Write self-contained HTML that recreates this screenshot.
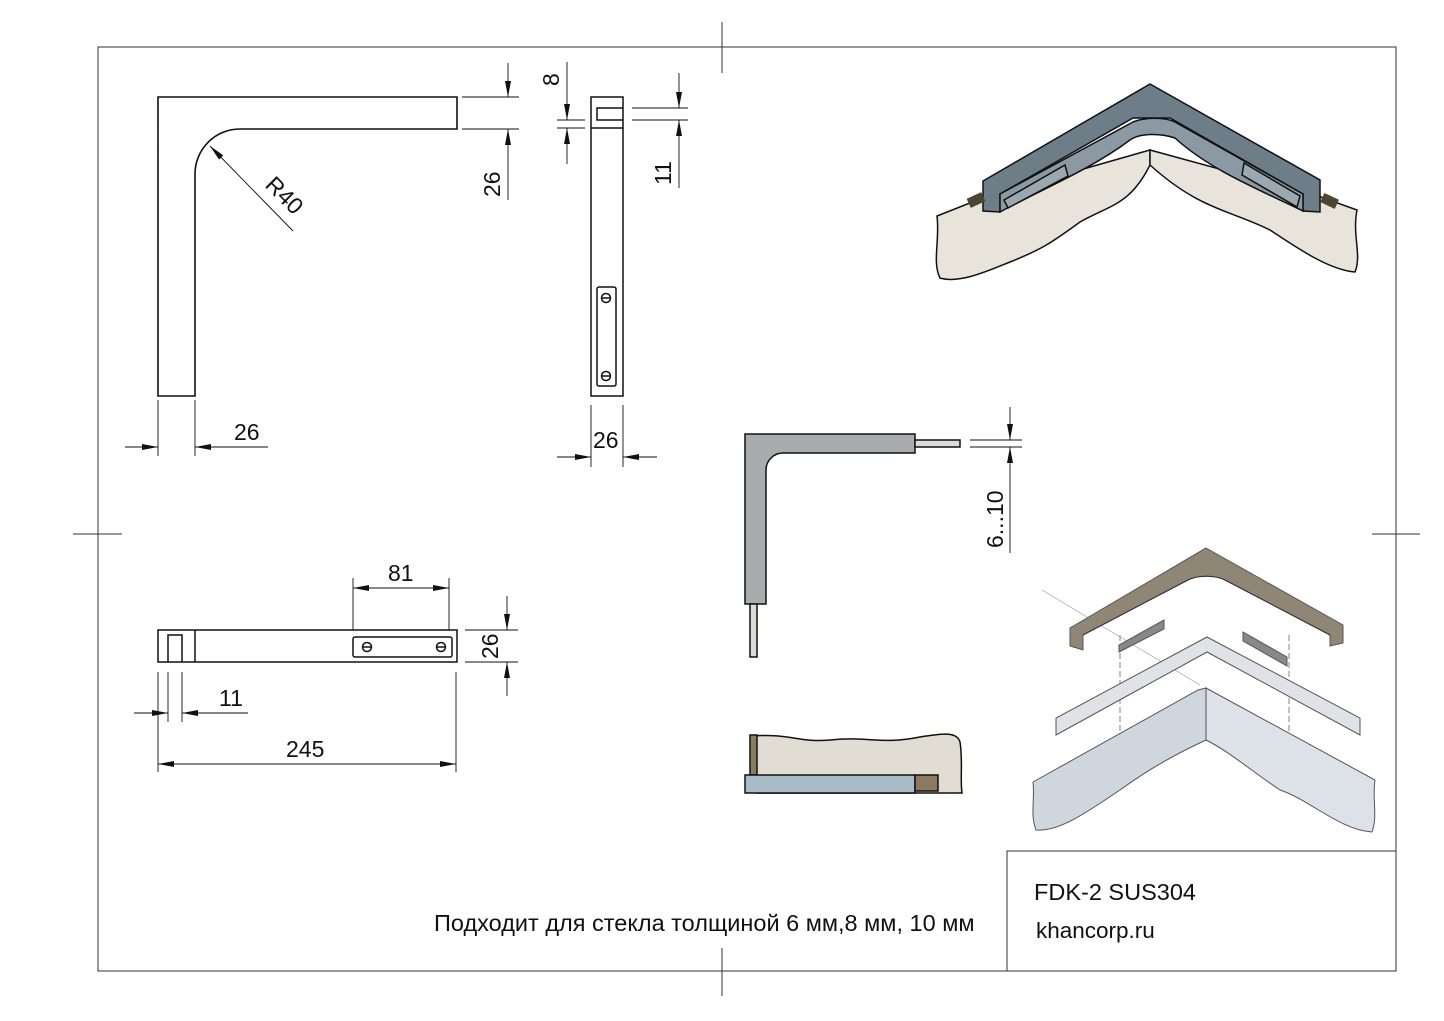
<!DOCTYPE html>
<html><head><meta charset="utf-8"><style>
html,body{margin:0;padding:0;background:#fff}
svg{display:block}
text{font-family:"Liberation Sans",sans-serif;fill:#111}
</style></head><body>
<svg width="1444" height="1021" viewBox="0 0 1444 1021" xmlns="http://www.w3.org/2000/svg">
<defs>
<marker id="a" viewBox="0 0 16 6" refX="16" refY="3" markerWidth="16" markerHeight="6" markerUnits="userSpaceOnUse" orient="auto"><path d="M0,0L16,3L0,6z" fill="#111"/></marker>
</defs>
<g fill="none" stroke="#333" stroke-width="1">
<rect x="98" y="47" width="1298" height="924"/>
<line x1="722" y1="22" x2="722" y2="73"/><line x1="722" y1="948" x2="722" y2="996"/>
<line x1="73" y1="534" x2="122" y2="534"/><line x1="1372" y1="534" x2="1420" y2="534"/>
<path d="M1007 971V851H1396"/>
</g>
<text x="1034" y="900" font-size="23.5">FDK-2 SUS304</text>
<text x="1036" y="938" font-size="22.5">khancorp.ru</text>
<text x="434" y="931" font-size="23.5">Подходит для стекла толщиной 6 мм,8 мм, 10 мм</text>

<!-- top-left L -->
<g fill="none" stroke="#111" stroke-width="1.6">
<path d="M158 97H457V129H240A45 45 0 0 0 195 174V396H158Z"/>
</g>
<g stroke="#111" stroke-width="0.9" fill="none">
<line x1="293" y1="231" x2="210" y2="146" marker-end="url(#a)"/>
<line x1="462" y1="97" x2="519" y2="97"/><line x1="462" y1="129" x2="519" y2="129"/>
<line x1="508" y1="63" x2="508" y2="97" marker-end="url(#a)"/><line x1="508" y1="200" x2="508" y2="129" marker-end="url(#a)"/>
<line x1="158" y1="400" x2="158" y2="456"/><line x1="195" y1="400" x2="195" y2="456"/>
<line x1="125" y1="447" x2="158" y2="447" marker-end="url(#a)"/><line x1="268" y1="447" x2="195" y2="447" marker-end="url(#a)"/>
</g>
<text x="0" y="0" font-size="23" transform="translate(264,186) rotate(45)">R40</text>
<text x="0" y="0" font-size="23" transform="translate(500,197) rotate(-90)">26</text>
<text x="234" y="440" font-size="23">26</text>

<!-- side view -->
<g fill="none" stroke="#111" stroke-width="1.5">
<rect x="591" y="97" width="32" height="299"/>
<path d="M623 108H597V120H623"/>
<line x1="591" y1="128" x2="623" y2="128"/>
<rect x="597" y="287" width="19" height="99" rx="2"/>
<circle cx="606" cy="298" r="4.5"/><circle cx="606" cy="376" r="4.5"/>
<line x1="601.5" y1="298" x2="610.5" y2="298"/><line x1="601.5" y1="376" x2="610.5" y2="376"/>
</g>
<g stroke="#111" stroke-width="0.9" fill="none">
<line x1="557" y1="120" x2="585" y2="120"/><line x1="557" y1="128" x2="585" y2="128"/>
<line x1="567" y1="62" x2="567" y2="120" marker-end="url(#a)"/><line x1="567" y1="164" x2="567" y2="128" marker-end="url(#a)"/>
<line x1="632" y1="108" x2="688" y2="108"/><line x1="632" y1="120" x2="688" y2="120"/>
<line x1="679" y1="73" x2="679" y2="108" marker-end="url(#a)"/><line x1="679" y1="188" x2="679" y2="120" marker-end="url(#a)"/>
<line x1="591" y1="405" x2="591" y2="467"/><line x1="623" y1="405" x2="623" y2="467"/>
<line x1="557" y1="457" x2="591" y2="457" marker-end="url(#a)"/><line x1="657" y1="457" x2="623" y2="457" marker-end="url(#a)"/>
</g>
<text x="0" y="0" font-size="23" transform="translate(559,86) rotate(-90)">8</text>
<text x="0" y="0" font-size="23" transform="translate(671,185) rotate(-90)">11</text>
<text x="593" y="448" font-size="23">26</text>

<!-- bottom view -->
<g fill="none" stroke="#111" stroke-width="1.5">
<rect x="158" y="630" width="299" height="32"/>
<line x1="195" y1="630" x2="195" y2="662"/>
<path d="M168 662V635H182V662"/>
<rect x="353" y="637" width="99" height="20" rx="2"/>
<circle cx="367" cy="647" r="4.5"/><circle cx="441" cy="647" r="4.5"/>
<line x1="362.5" y1="647" x2="371.5" y2="647"/><line x1="436.5" y1="647" x2="445.5" y2="647"/>
</g>
<g stroke="#111" stroke-width="0.9" fill="none">
<line x1="353" y1="578" x2="353" y2="630"/><line x1="449" y1="578" x2="449" y2="630"/>
<line x1="401" y1="588" x2="353" y2="588" marker-end="url(#a)"/><line x1="401" y1="588" x2="449" y2="588" marker-end="url(#a)"/>
<line x1="465" y1="630" x2="518" y2="630"/><line x1="465" y1="662" x2="518" y2="662"/>
<line x1="507" y1="596" x2="507" y2="630" marker-end="url(#a)"/><line x1="507" y1="696" x2="507" y2="662" marker-end="url(#a)"/>
<line x1="158" y1="672" x2="158" y2="772"/><line x1="168" y1="672" x2="168" y2="722"/><line x1="182" y1="672" x2="182" y2="722"/><line x1="456" y1="672" x2="456" y2="772"/>
<line x1="134" y1="713" x2="168" y2="713" marker-end="url(#a)"/><line x1="248" y1="713" x2="182" y2="713" marker-end="url(#a)"/>
<line x1="307" y1="764" x2="158" y2="764" marker-end="url(#a)"/><line x1="307" y1="764" x2="456" y2="764" marker-end="url(#a)"/>
</g>
<text x="388" y="581" font-size="23">81</text>
<text x="0" y="0" font-size="23" transform="translate(498,659) rotate(-90)">26</text>
<text x="219" y="706" font-size="23">11</text>
<text x="286" y="757" font-size="23">245</text>

<!-- middle L -->
<g stroke="#111" stroke-width="1.5">
<path d="M745 434H915V453H783A17 17 0 0 0 766 470V604H745Z" fill="#a9acac"/>
<rect x="915" y="440" width="45" height="7" fill="#dcdcd6"/>
<rect x="750" y="604" width="7" height="53" fill="#dcdcd6"/>
</g>
<g stroke="#111" stroke-width="0.9" fill="none">
<line x1="970" y1="440" x2="1022" y2="440"/><line x1="970" y1="447" x2="1022" y2="447"/>
<line x1="1010" y1="407" x2="1010" y2="440" marker-end="url(#a)"/><line x1="1010" y1="553" x2="1010" y2="447" marker-end="url(#a)"/>
</g>
<text x="0" y="0" font-size="23" transform="translate(1003,548) rotate(-90)">6...10</text>

<!-- cross section -->
<g stroke="#111" stroke-width="1.5">
<path d="M752 736C790 733 800 743 830 740C870 736 880 745 920 737C945 733 957 732 960 742C963 760 960 780 962 793H757Z" fill="#e2ddd2"/>
<rect x="750" y="735" width="7" height="40" fill="#8a7c5e"/>
<rect x="745" y="775" width="170" height="18" fill="#a8bcc7"/>
<rect x="915" y="775" width="23" height="16" fill="#8a7a5f"/>
</g>

<!-- 3D top right -->
<g stroke="#111" stroke-width="1.5">
<path d="M937 216C940 240 932 262 940 278C960 284 990 270 1010 262C1040 250 1050 244 1080 222C1110 205 1130 205 1150 165L1150 150L985 197Z" fill="#e8e4dc"/>
<path d="M1150 150L1318 196L1357 210C1352 235 1362 255 1355 272C1330 270 1300 250 1270 230C1230 210 1200 210 1150 165Z" fill="#e8e4dc"/>
<path d="M1150 84L1320 180V212L1303 211V194L1170 118H1133L1000 194V212L983 211V181Z" fill="#6e7e88"/>
<path d="M1000 194L1133 122C1145 117 1165 117 1175 122L1303 194V211C1260 190 1210 170 1175 138C1160 133 1140 133 1130 140C1090 170 1040 190 1000 212Z" fill="#8a99a3"/>
<path d="M1004 200L1065 165L1068 176L1008 208Z" fill="#9aa8b0"/>
<path d="M1244 163L1300 196L1297 207L1242 175Z" fill="#9aa8b0"/>
</g>
<rect x="968" y="195" width="16" height="10" fill="#4a4630" transform="rotate(-25 976 200)"/>
<rect x="1322" y="196" width="16" height="10" fill="#4a4630" transform="rotate(25 1330 200)"/>

<!-- 3D exploded bottom right -->
<g stroke="#666" stroke-width="0.8" fill="none" stroke-dasharray="6 3">
<line x1="1120" y1="635" x2="1120" y2="763"/><line x1="1289" y1="635" x2="1289" y2="763"/>
</g>
<line x1="1042" y1="590" x2="1200" y2="685" stroke="#999" stroke-width="0.6"/>
<g stroke="#555" stroke-width="1">
<path d="M1033 782L1198 690L1206 688V740C1180 752 1150 768 1120 790C1090 810 1060 832 1036 830C1030 815 1035 800 1033 782Z" fill="#cfd6de"/>
<path d="M1206 688L1375 780C1372 800 1378 815 1372 832C1340 830 1310 800 1280 790C1250 770 1230 752 1206 740Z" fill="#dde2e8"/>
<path d="M1056 718V735L1207 652L1360 735V718L1207 637Z" fill="#dfe3e7"/>
<path d="M1119 645L1164 620V629L1119 652Z" fill="#888"/>
<path d="M1243 632L1287 657V666L1243 641Z" fill="#888"/>
<path d="M1206 548L1343 625V643L1330 646V635L1225 580C1215 575 1198 575 1188 580L1083 635V650L1070 646V628Z" fill="#8f8676"/>
<path d="M1083 635L1188 580C1198 575 1215 575 1225 580L1330 635" fill="none" stroke="#333"/>
</g>
</svg>
</body></html>
